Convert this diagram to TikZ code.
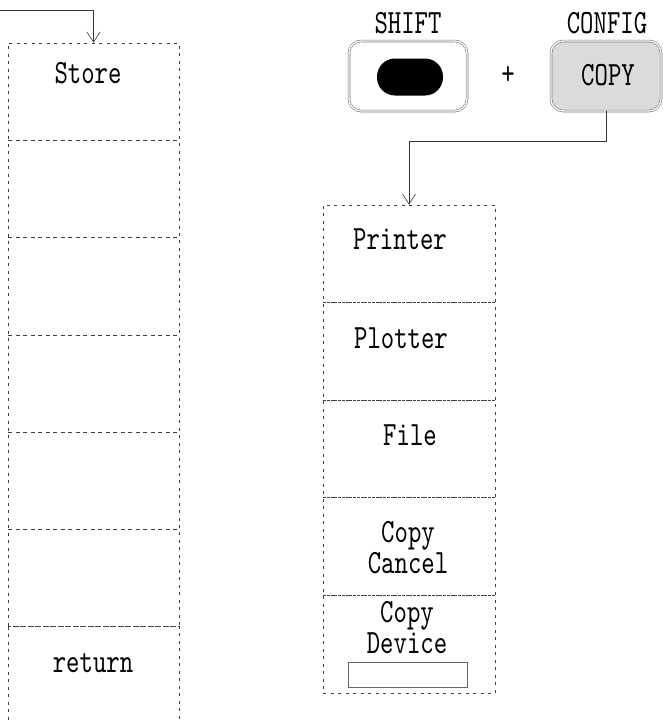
\documentclass[tikz,border=0pt]{standalone}
\usepackage{fontspec}
\usetikzlibrary{arrows.meta}
\newfontfamily\keyfont{lmmono10-regular.otf}[FakeStretch=0.75]
\newcommand\keyfontcmd{\keyfont\fontsize{34}{31}\selectfont}
\begin{document}
\begin{tikzpicture}[x=1pt,y=-1pt,
  cell/.style={draw=black!75, line width=0.7pt, dash pattern=on 3pt off 4.5pt, minimum width=#1, inner sep=0pt},
  lab/.style={font=\keyfontcmd, inner sep=0pt, anchor=base, align=center},
  conn/.style={draw=black!80, line width=0.7pt, -{Straight Barb[length=10pt,width=13pt,line width=0.6pt]}},
  keycap/.style={draw=black!55, double=white, double distance=1.3pt, line width=0.6pt, rounded corners=12pt, inner sep=0pt, minimum height=70pt},
  boxstyle/.style={draw=black!60, line width=0.8pt, inner sep=0pt}]
\useasboundingbox (0,0) rectangle (665,723);
% left column
\foreach \i/\t/\b in {1/43/140.3, 2/140.3/237.6, 3/237.6/334.9, 4/334.9/432.2, 5/432.2/529.5, 6/529.5/626.8, 7/626.8/735}{
  \node[cell=171pt, minimum height={(\b-\t)*1pt}] (L\i) at (93.5,{(\t+\b)/2}) {};
}
% right column
\foreach \i/\t/\b in {1/205/302.6, 2/302.6/400.2, 3/400.2/497.8, 4/497.8/595.4, 5/595.4/693}{
  \node[cell=172pt, minimum height={(\b-\t)*1pt}] (R\i) at (409,{(\t+\b)/2}) {};
}
% labels
\node[lab] (store) at (88,83) {Store};
\node[lab] (ret) at (93,672) {return};
\node[lab] (printer) at (400,249) {Printer};
\node[lab] (plotter) at (401,348) {Plotter};
\node[lab] (file) at (410,445) {File};
\node[lab] (cancel) at (408,573) {Copy\\Cancel};
\node[lab] (device) at (407,653) {Copy\\Device};
\node[boxstyle, minimum width=119pt, minimum height=25pt] (devbox) at (407.5,674.5) {};
% keys
\node[keycap, minimum width=118pt] (shift) at (408,76) {};
\node[fill=black, rounded corners=18pt, minimum width=66pt, minimum height=37pt, inner sep=0pt] (shiftdot) at (410,77) {};
\node[keycap, minimum width=110pt, fill=black!14] (config) at (606,76) {};
\node[lab] (shiftlab) at (408,33) {SHIFT};
\node[lab] (configlab) at (607,33) {CONFIG};
\node[lab] (copylab) at (608,85) {COPY};
\node[lab, anchor=center] (plus) at (508,75) {+};
% connectors
\coordinate (lin) at (0,10);
\draw[conn] (lin) -| (L1.north);
\draw[conn] (config.south) -- ++(0,30) -| (R1.north);
\end{tikzpicture}
\end{document}
